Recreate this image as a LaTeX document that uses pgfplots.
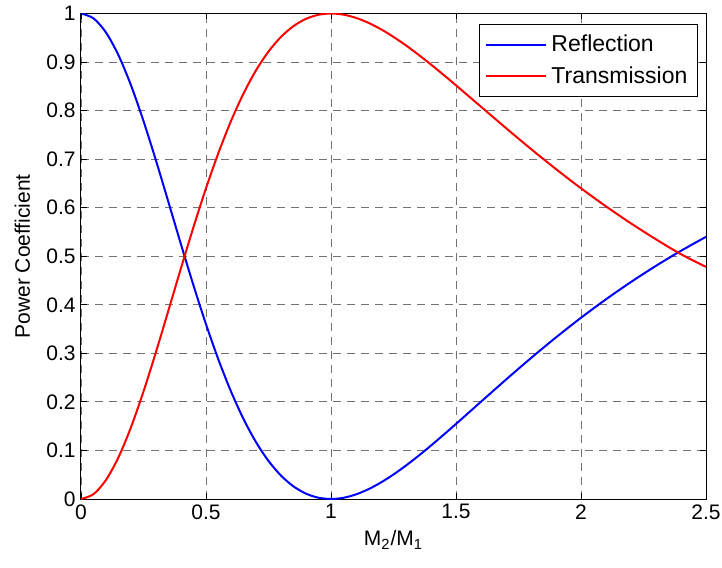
\documentclass[border=0pt]{standalone}
\usepackage{fontspec}
\setmainfont{Liberation Sans}
\usepackage{pgfplots}
\pgfplotsset{compat=1.18}

\begin{document}
\fontsize{10.5}{12.5}\selectfont
\begin{tikzpicture}
\begin{axis}[
    scale only axis,
    width=312.5pt, height=242.75pt,
    xmin=0, xmax=2.5, ymin=0, ymax=1,
    xtick={0,0.5,...,2.5},
    ytick={0,0.1,...,1},
    yticklabels={0,0.1,0.2,0.3,0.4,0.5,0.6,0.7,0.8,0.9,1},
    xticklabels={0,0.5,1,1.5,2,2.5},
    tick align=inside,
    major tick length=3pt,
    tick style={black, line width=0.4pt},
    axis line style={black, line width=0.5pt},
    grid=major,
    major grid style={black!55, dash pattern=on 4pt off 3pt, line width=0.4pt},
    /pgf/number format/assume math mode=true,
    tick label style={font=\fontsize{10.5}{12.5}\selectfont},
    xticklabel style={yshift=1pt},
    yticklabel style={xshift=1pt},
    xlabel={M\textsubscript{2}/M\textsubscript{1}},
    ylabel={Power Coefficient},
    label style={font=\fontsize{10.5}{12.5}\selectfont},
    xlabel style={yshift=1.5pt},
    ylabel style={yshift=1pt},
    legend style={at={(rel axis cs:0.987,0.978)}, anchor=north east,
        draw=black, line width=0.5pt, font=\fontsize{11.5}{13.5}\selectfont,
        inner xsep=3pt, inner ysep=3pt, row sep=2pt},
    legend cell align=left,
    legend image code/.code={\draw[#1] (0pt,0pt) -- (30pt,0pt);},
]
\addplot[blue, line width=1pt, smooth] coordinates {
(0,1) (0.05,0.99004) (0.1,0.96079) (0.15,0.91392) (0.2,0.85207) (0.25,0.77855)
(0.3,0.69699) (0.35,0.61111) (0.4,0.52438) (0.45,0.43984) (0.5,0.36)
(0.55,0.28677) (0.6,0.22145) (0.65,0.16482) (0.7,0.11716) (0.75,0.0784)
(0.8,0.048186) (0.85,0.025954) (0.9,0.011019) (0.95,0.002626) (1,0)
(1.05,0.002497) (1.1,0.009484) (1.15,0.020245) (1.2,0.034127) (1.25,0.050542)
(1.3,0.068971) (1.35,0.088958) (1.4,0.110112) (1.45,0.132095) (1.5,0.154621)
(1.6,0.200390) (1.7,0.245947) (1.8,0.290318) (1.9,0.332889) (2.0,0.373290)
(2.1,0.411345) (2.2,0.446998) (2.3,0.480268) (2.4,0.511238) (2.5,0.540010)
};
\addlegendentry{Reflection}
\addplot[red, line width=1pt, smooth] coordinates {
(0,0) (0.05,0.00996) (0.1,0.03921) (0.15,0.08608) (0.2,0.14793) (0.25,0.22145)
(0.3,0.30301) (0.35,0.38889) (0.4,0.47562) (0.45,0.56016) (0.5,0.64)
(0.55,0.71323) (0.6,0.77855) (0.65,0.83518) (0.7,0.88284) (0.75,0.9216)
(0.8,0.95181) (0.85,0.97405) (0.9,0.98898) (0.95,0.99737) (1,1)
(1.05,0.99762) (1.1,0.99097) (1.15,0.98072) (1.2,0.96748) (1.25,0.95181)
(1.3,0.93421) (1.35,0.91508) (1.4,0.89481) (1.45,0.87372) (1.5,0.85207)
(1.6,0.80798) (1.7,0.76394) (1.8,0.72090) (1.9,0.67946) (2.0,0.64)
(2.1,0.60270) (2.2,0.56765) (2.3,0.53483) (2.4,0.50418) (2.5,0.47812)
};
\addlegendentry{Transmission}
\end{axis}
\pgfresetboundingbox
\path (current axis.south west) ++(-40.5pt,-34pt) (current axis.north east) ++(8pt,6.75pt);
\end{tikzpicture}
\end{document}
